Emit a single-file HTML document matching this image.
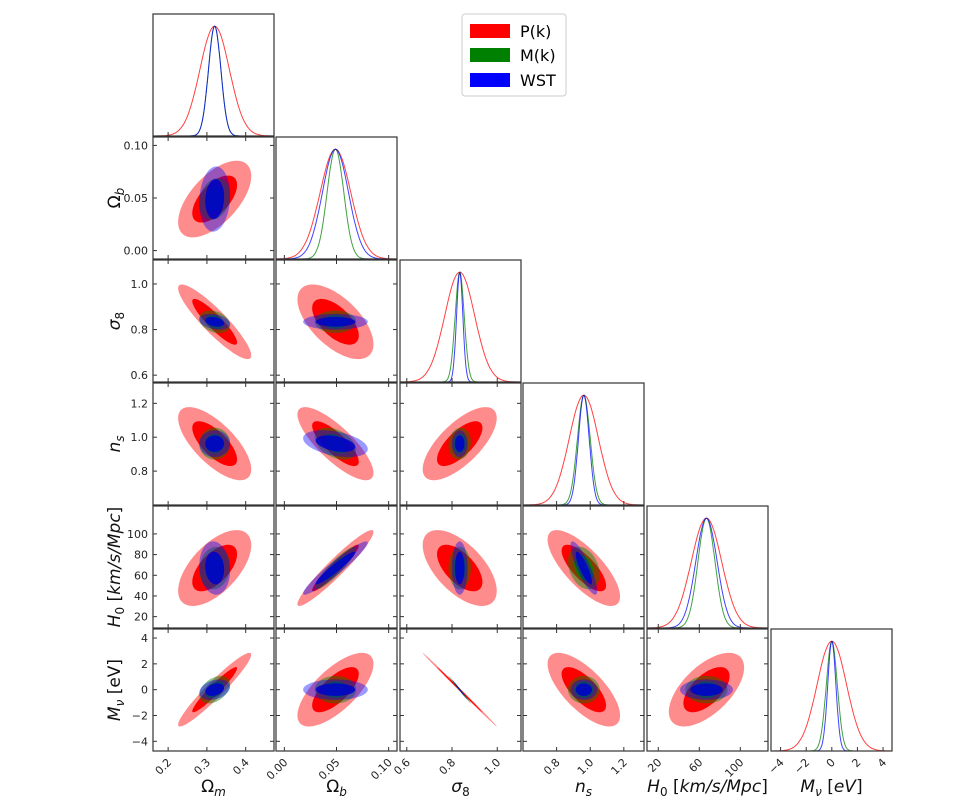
<!DOCTYPE html>
<html><head><meta charset="utf-8"><style>
html,body{margin:0;padding:0;background:#fff;}
svg{display:block;font-family:"DejaVu Sans","Liberation Sans",sans-serif;}
</style></head><body>
<svg id="fig" width="979" height="811" viewBox="0 0 979 811" xmlns="http://www.w3.org/2000/svg">
<g id="legend">
<rect x="462" y="14" width="104" height="82" rx="3" fill="#fff" stroke="#ccc"/>
<rect x="470" y="24" width="40" height="14" fill="#ff0000"/>
<text x="520" y="37" font-size="16">P(k)</text>
<rect x="470" y="48" width="40" height="14" fill="#008000"/>
<text x="520" y="61" font-size="16">M(k)</text>
<rect x="470" y="73" width="40" height="14" fill="#0000ff"/>
<text x="520" y="86" font-size="16">WST</text>
</g>
</svg>
<script>
const params = ["Om","Ob","s8","ns","H0","Mnu"];
const means = [0.32, 0.049, 0.834, 0.962, 67, 0.0];
const sigmaPk  = [0.038, 0.0147, 0.066, 0.087, 14.8, 1.15];
const sigmaMk  = [0.016, 0.0080, 0.020, 0.038, 8.3, 0.43];
const sigmaWST = [0.016, 0.0125, 0.014, 0.032, 10.4, 0.32];
// pairs: (0,1),(0,2),(0,3),(0,4),(0,5),(1,2),(1,3),(1,4),(1,5),(2,3),(2,4),(2,5),(3,4),(3,5),(4,5)
const corrPk  = [0.6,-0.9,-0.7,0.6,0.95,-0.6,-0.8,0.95,0.7,0.7,-0.6,-0.999,-0.75,-0.7,0.6];
const corrMk  = [0.2,-0.3,0.0,0.1,0.4,0.0,-0.4,0.9,0.0,0.1,0.0,-0.995,-0.3,0.0,0.0];
const corrWST = [0.1,-0.3,0.0,-0.1,0.3,0.0,-0.4,0.95,0.0,0.0,0.0,-0.995,-0.85,0.0,0.0];
const rangeMin = [0.161, -0.008, 0.57, 0.60, 9, -4.75];
const rangeMax = [0.473, 0.108, 1.105, 1.32, 127, 4.7];
const xTicks = [[0.2,0.3,0.4],[0,0.05,0.1],[0.6,0.8,1.0],[0.8,1.0,1.2],[20,60,100],[-4,-2,0,2,4]];
const xTickLabels = [["0.2","0.3","0.4"],["0.00","0.05","0.10"],["0.6","0.8","1.0"],["0.8","1.0","1.2"],["20","60","100"],["\u22124","\u22122","0","2","4"]];
const yTicks = [[],[0,0.05,0.1],[0.6,0.8,1.0],[0.8,1.0,1.2],[20,40,60,80,100],[-4,-2,0,2,4]];
const yTickLabels = [[],["0.00","0.05","0.10"],["0.6","0.8","1.0"],["0.8","1.0","1.2"],["20","40","60","80","100"],["\u22124","\u22122","0","2","4"]];

const NS="http://www.w3.org/2000/svg";
const svg=document.getElementById('fig');
const lefts=[153,276,400,523,647,771], tops=[14,137,260,383,506,629], W=121, H=122;
const names=["omega-m","omega-b","sigma8","ns","h0","mnu"];
function el(t,a,p){const e=document.createElementNS(NS,t);for(const k in a)e.setAttribute(k,a[k]);(p||svg).appendChild(e);return e;}
function sx(i,v){return lefts[i]+(v-rangeMin[i])/(rangeMax[i]-rangeMin[i])*W;}
function sy(j,v){return tops[j]+H-(v-rangeMin[j])/(rangeMax[j]-rangeMin[j])*H;}
function pairIdx(i,j){let n=0;for(let a=0;a<6;a++)for(let b=a+1;b<6;b++){if(a===i&&b===j)return n;n++;}return -1;}
const defs=el('defs',{});
const datasets=[
 {sig:sigmaPk,cor:corrPk,outer:"#ff0000",inner:"#ff0000",oo:0.45,io:1.0,line:"#ff0000",name:"pk"},
 {sig:sigmaMk,cor:corrMk,outer:"#008000",inner:"#008000",oo:0.45,io:0.8,line:"#008000",name:"mk"},
 {sig:sigmaWST,cor:corrWST,outer:"#0000ff",inner:"#0000cc",oo:0.4,io:0.85,line:"#0000ff",name:"wst"}];

for(let r=0;r<6;r++){
 for(let c=0;c<=r;c++){
  const g=el('g',{});
  
  
  const cid='clip'+r+c;
  const cp=el('clipPath',{id:cid},defs);
  el('rect',{x:lefts[c],y:tops[r],width:W,height:H},cp);
  const inner=el('g',{'clip-path':'url(#'+cid+')'},g);
  if(r===c){
   datasets.forEach(d=>{
    let pts=[];
    for(let k=0;k<=200;k++){const v=rangeMin[c]+(rangeMax[c]-rangeMin[c])*k/200;
     const y=tops[r]+H-H*0.9*Math.exp(-0.5*Math.pow((v-means[c])/d.sig[c],2));
     pts.push(sx(c,v).toFixed(1)+','+y.toFixed(1));}
    const p=el('polyline',{points:pts.join(' '),fill:'none',stroke:d.line,'stroke-width':1,'stroke-opacity':0.75},inner);
    
    
   });
  } else {
   const pi=pairIdx(c,r);
   datasets.forEach(d=>{
    const rho=d.cor[pi];
    [[2.48,d.outer,d.oo,'outer'],[1.52,d.inner,d.io,'inner']].forEach(([k,col,op,lv])=>{
     let pts=[];
     for(let t=0;t<=120;t++){const a=2*Math.PI*t/120;
      const vx=means[c]+k*d.sig[c]*Math.cos(a);
      const vy=means[r]+k*d.sig[r]*(rho*Math.cos(a)+Math.sqrt(1-rho*rho)*Math.sin(a));
      pts.push(sx(c,vx).toFixed(1)+','+sy(r,vy).toFixed(1));}
     const p=el('polygon',{points:pts.join(' '),fill:col,'fill-opacity':op,stroke:'none'},inner);
     
     
    });
   });
  }
  el('rect',{x:lefts[c],y:tops[r],width:W,height:H,fill:'none',stroke:'#333','stroke-width':1.2},g);
  xTicks[c].forEach((v,ti)=>{const x=sx(c,v);
   el('line',{x1:x,x2:x,y1:tops[r]+H,y2:tops[r]+H-4,stroke:'#333'},g);
   if(r!==c) el('line',{x1:x,x2:x,y1:tops[r],y2:tops[r]+4,stroke:'#333'},g);
   if(r===5){const t=el('text',{x:x+4,y:tops[r]+H+12,'font-size':11,'text-anchor':'end',fill:'#222',transform:'rotate(-45,'+(x+4)+','+(tops[r]+H+12)+')'});
    t.textContent=xTickLabels[c][ti];
    
    }
  });
  if(r!==c){
   yTicks[r].forEach((v,ti)=>{const y=sy(r,v);
    el('line',{x1:lefts[c],x2:lefts[c]+4,y1:y,y2:y,stroke:'#333'},g);
    el('line',{x1:lefts[c]+W,x2:lefts[c]+W-4,y1:y,y2:y,stroke:'#333'},g);
    if(c===0){const t=el('text',{x:lefts[c]-5,y:y+4,'font-size':11,'text-anchor':'end',fill:'#222'},g);
     t.textContent=yTickLabels[r][ti];
     
     }
   });
  }
 }
}
const xLab=['Ω<tspan font-size="12" dy="4" font-style="italic">m</tspan>','Ω<tspan font-size="12" dy="4" font-style="italic">b</tspan>','<tspan font-style="italic">σ</tspan><tspan font-size="12" dy="4">8</tspan>','<tspan font-style="italic">n</tspan><tspan font-size="12" dy="4" font-style="italic">s</tspan>','<tspan font-style="italic">H</tspan><tspan font-size="12" dy="4">0</tspan><tspan dy="-4"> [</tspan><tspan font-style="italic">km/s/Mpc</tspan>]','<tspan font-style="italic">M</tspan><tspan font-size="12" dy="4" font-style="italic">ν</tspan><tspan dy="-4"> [</tspan><tspan font-style="italic">eV</tspan>]'];
xLab.forEach((h,i)=>{const t=el('text',{x:lefts[i]+W/2,y:792,'font-size':17,'text-anchor':'middle',fill:'#111'});t.innerHTML=h;
 
 });
const yLab=['','Ω<tspan font-size="12" dy="4" font-style="italic">b</tspan>','<tspan font-style="italic">σ</tspan><tspan font-size="12" dy="4">8</tspan>','<tspan font-style="italic">n</tspan><tspan font-size="12" dy="4" font-style="italic">s</tspan>','<tspan font-style="italic">H</tspan><tspan font-size="12" dy="4">0</tspan><tspan dy="-4"> [</tspan><tspan font-style="italic">km/s/Mpc</tspan>]','<tspan font-style="italic">M</tspan><tspan font-size="12" dy="4" font-style="italic">ν</tspan><tspan dy="-4"> [eV]</tspan>'];
for(let r=1;r<6;r++){const cy=tops[r]+H/2;const t=el('text',{x:120,y:cy,'font-size':17,'text-anchor':'middle',fill:'#111',transform:'rotate(-90,120,'+cy+')'});t.innerHTML=yLab[r];
 
 }
svg.appendChild(document.getElementById('legend'));
</script>
</body></html>
